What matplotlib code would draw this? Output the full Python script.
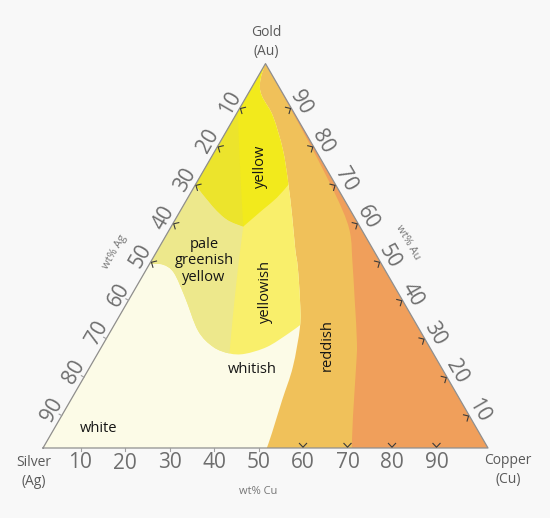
import matplotlib

matplotlib.use("Agg")
import matplotlib.pyplot as plt
import numpy as np
from matplotlib.patches import PathPatch
from matplotlib.path import Path

# ---- data: phase-colour boundaries of Au-Ag-Cu alloys, points as (wt% Cu, wt% Au) ----
red_cu = [33.3, 41.0, 45.0, 50.8, 56.9, 59.8, 65.6, 69.4]
red_au = [66.7, 56.0, 49.0, 38.5, 27.3, 21.1, 8.1, 0.0]

orange_cu = [0.0, 4.3, 8.6, 15.1, 20.6, 25.9, 30.9, 33.7, 38.5, 42.0, 45.6, 47.5, 49.5, 50.3]
orange_au = [95.0, 90.6, 86.2, 77.6, 69.0, 60.2, 51.6, 47.1, 38.5, 31.5, 21.1, 12.5, 3.9, 0.0]

white_cu = [0.0, 3.1, 6.6, 12.4, 19.6, 25.1, 29.6, 33.1, 37.2, 40.2, 41.8]
white_au = [47.9, 47.7, 45.6, 39.1, 30.5, 26.3, 24.6, 24.5, 26.3, 29.7, 32.0]
white_split = 6  # index where the pale / yellowish divider meets

yellow_left_cu = [0.0, 6.8, 11.7, 16.2]
yellow_left_au = [68.5, 62.8, 59.4, 57.6]
yellow_right_cu = [16.2, 18.4, 20.0, 20.9]
yellow_right_au = [57.6, 62.0, 65.1, 68.5]

divider_cu = [16.2, 20.3, 25.6, 29.6]
divider_au = [57.6, 47.1, 34.1, 24.6]

sliver_cu = [0.0, 8.1, 16.2]
sliver_au = [87.5, 72.4, 57.6]

ticks = [10, 20, 30, 40, 50, 60, 70, 80, 90]

region_names = ["yellow", "pale\ngreenish\nyellow", "yellowish", "whitish", "reddish", "white"]
region_cu = [12.2, 11.8, 29.6, 36.8, 50.4, 10.0]
region_au = [73.2, 48.7, 40.6, 20.3, 26.8, 5.2]
region_rot = [90, 0, 90, 0, 90, 0]

# ---- geometry ----
AG = np.array([43.0, 448.0])
CU = np.array([488.0, 448.0])
AU = np.array([265.5, 63.6])

BG = "#F8F8F8"
C_DARK = "#F09F5B"
C_MED = "#F0C15A"
C_CREAM = "#FCFBE7"
C_YISH = "#F9EF6B"
C_PALE = "#EDE88C"
C_YELLOW = "#F2EA1C"
C_SLIVER = "#ECE42C"
TXT = "#6E6E6E"

plt.rcParams["font.family"] = ["Open Sans", "DejaVu Sans"]


def tern(cu, au):
    cu = np.asarray(cu, float) / 100.0
    au = np.asarray(au, float) / 100.0
    ag = 1.0 - cu - au
    x = ag * AG[0] + cu * CU[0] + au * AU[0]
    y = ag * AG[1] + cu * CU[1] + au * AU[1]
    return np.column_stack([np.atleast_1d(x), np.atleast_1d(y)])


def curve(cu, au):
    """Smooth Catmull-Rom drawing of a boundary, as a list of cubic segments."""
    p = tern(cu, au)
    ext = np.vstack([p[0], p, p[-1]])
    segs = []
    for i in range(1, len(ext) - 2):
        a, b = ext[i], ext[i + 1]
        c1 = a + (ext[i + 1] - ext[i - 1]) / 6.0
        c2 = b - (ext[i + 2] - ext[i]) / 6.0
        segs.append((a, c1, c2, b))
    return segs


def rev(segs):
    return [(d, c2, c1, a) for (a, c1, c2, d) in segs[::-1]]


def line(*pts):
    return np.vstack(pts)


def build(pieces):
    verts, codes = [], []
    for piece in pieces:
        if isinstance(piece, list):
            for a, c1, c2, b in piece:
                if not verts:
                    verts.append(a)
                    codes.append(Path.MOVETO)
                verts += [c1, c2, b]
                codes += [Path.CURVE4] * 3
        else:
            for q in piece:
                verts.append(q)
                codes.append(Path.MOVETO if not codes else Path.LINETO)
    verts.append(verts[0])
    codes.append(Path.CLOSEPOLY)
    return Path(np.array(verts), codes)


def fill(pieces, color, clip=None, z=1):
    p = PathPatch(build(pieces), facecolor=color, edgecolor="none", zorder=z)
    ax.add_patch(p)
    if clip is not None:
        p.set_clip_path(clip)
    return p


fig = plt.figure(figsize=(5.5, 5.18), dpi=100, facecolor=BG)
ax = fig.add_axes([0, 0, 1, 1])
ax.set_xlim(0, 550)
ax.set_ylim(518, 0)
ax.axis("off")
ax.set_facecolor(BG)

v_ag, v_cu, v_au = tern(0, 0)[0], tern(100, 0)[0], tern(0, 100)[0]

red = curve(red_cu, red_au)
orange = curve(orange_cu, orange_au)
white = curve(white_cu, white_au)
yl = curve(yellow_left_cu, yellow_left_au)
yr = curve(yellow_right_cu, yellow_right_au)
div = curve(divider_cu, divider_au)
sliv = curve(sliver_cu, sliver_au)

# dark orange: whole triangle
fill([line(v_ag, v_cu, v_au)], C_DARK)
# medium orange: left of the red boundary
fill([line(v_ag, v_au), red], C_MED, z=2)
# cream: left of the orange boundary
cream = fill([line(v_ag, v_au), orange], C_CREAM, z=3)
# yellowish: above the white boundary, clipped to the cream area
fill([white, line(tern(68, 32)[0], v_au)], C_YISH, clip=cream, z=4)
# yellow: above the yellow boundary
fill([yl, yr, line(tern(31.5, 68.5)[0], v_au)], C_YELLOW, clip=cream, z=5)
# pale greenish yellow
fill([yl, div, rev(white[:white_split])], C_PALE, z=6)
# slightly greener sliver of the yellow field
fill([sliv, rev(yl)], C_SLIVER, z=6)

# outline
tri = np.vstack([v_ag, v_cu, v_au, v_ag])
ax.plot(tri[:, 0], tri[:, 1], color="#8F8F8F", lw=0.9, zorder=10)


def chevron(p, n, t, size=3.6, depth=3.8):
    apex = p - 0.8 * n
    a = apex - depth * n + size * t
    b = apex - depth * n - size * t
    pts = np.vstack([a, apex, b])
    ax.plot(pts[:, 0], pts[:, 1], color="#3A3A3A", lw=0.8, zorder=11)


def small_tick(p, n):
    q = p + 3.0 * n
    ax.plot([p[0], q[0]], [p[1], q[1]], color="#A0A0A0", lw=0.8, zorder=11)


shift = 7.0
# bottom axis: wt% Cu
t_b = np.array([1.0, 0.0])
n_b = np.array([0.0, 1.0])
for k in ticks:
    p = tern(k, 0)[0] - shift * t_b
    ax.text(p[0], p[1] + 15, str(k), ha="center", va="center", fontsize=15, color=TXT, zorder=12)
    if k >= 60:
        chevron(p, n_b, t_b)
    else:
        small_tick(p, n_b)

# left axis: wt% Ag
t_l = (v_ag - v_au) / np.linalg.norm(v_ag - v_au)
n_l = np.array([-0.866, -0.5])
for k in ticks:
    p = tern(0, 100 - k)[0] + shift * t_l
    q = p + 11 * n_l
    ax.text(q[0], q[1], str(k), ha="center", va="center", rotation=60, fontsize=15, color=TXT, zorder=12)
    if k <= 50:
        chevron(p, n_l, t_l)
    else:
        small_tick(p, n_l)

# right axis: wt% Au
t_r = (v_cu - v_au) / np.linalg.norm(v_cu - v_au)
n_r = np.array([0.866, -0.5])
for k in ticks:
    p = tern(100 - k, k)[0] + shift * t_r
    q = p + 11 * n_r
    ax.text(q[0], q[1], str(k), ha="center", va="center", rotation=-60, fontsize=15, color=TXT, zorder=12)
    chevron(p, n_r, t_r)

# axis titles
ax.text(258, 492, "wt% Cu", ha="center", va="center", fontsize=8, color="#777777")
ax.text(115, 252, "wt% Ag", ha="center", va="center", rotation=60, fontsize=8, color="#777777")
ax.text(408, 242, "wt% Au", ha="center", va="center", rotation=-60, fontsize=8, color="#777777")

# corner labels
ax.text(266, 42, "Gold\n(Au)", ha="center", va="center", fontsize=10, color="#5A5A5A", linespacing=1.3)
ax.text(34, 472, "Silver\n(Ag)", ha="center", va="center", fontsize=10, color="#5A5A5A", linespacing=1.3)
ax.text(508, 470, "Copper\n(Cu)", ha="center", va="center", fontsize=10, color="#5A5A5A", linespacing=1.3)

# region names
pos = tern(region_cu, region_au)
for name, (x, y), rot in zip(region_names, pos, region_rot):
    ax.text(x, y, name, ha="center", va="center", rotation=rot, fontsize=10.5,
            color="#151515", linespacing=1.15, zorder=12)

fig.savefig("out.png", dpi=100, facecolor=BG)
plt.close(fig)
